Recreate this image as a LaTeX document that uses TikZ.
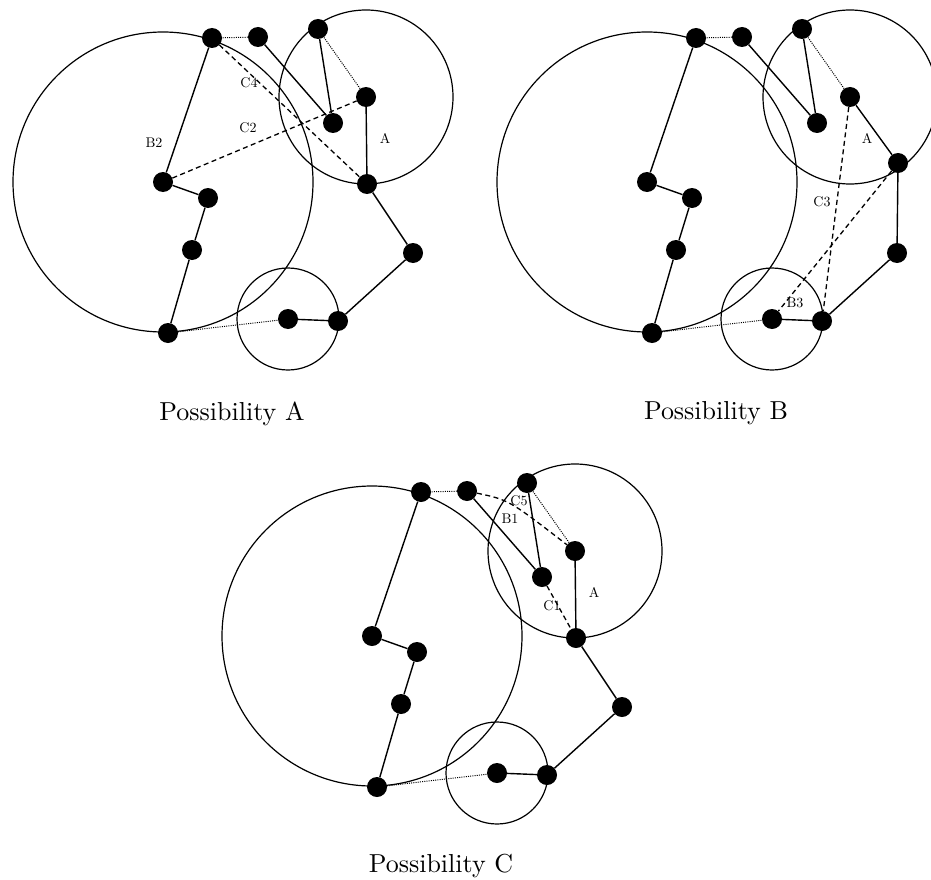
\documentclass[tikz,border=0pt]{standalone}
\newcommand\drawpanel[4]{%
\begin{scope}[shift={#1},name prefix=#2]
\coordinate (c13) at (163,182);
\coordinate (c4) at (366,97);
\coordinate (c9) at (288,319);
\draw[ring] (c13) circle[radius=150pt];
\draw[ring] (c4) circle[radius=87pt];
\draw[ring] (c9) circle[radius=51pt];
\node[dot] (n1) at (212,38) {};
\node[dot] (n2) at (258,37) {};
\node[dot] (n3) at (318,29) {};
\node[dot] (n4) at (c4) {};
\node[dot] (n5) at (333,123) {};
\node[dot] (n6) at #3 {};
\node[dot] (n7) at (413,253) {};
\node[dot] (n8) at (338,321) {};
\node[dot] (n9) at (c9) {};
\node[dot] (n10) at (168,333) {};
\node[dot] (n11) at (192,250) {};
\node[dot] (n12) at (208,198) {};
\node[dot] (n13) at (c13) {};
\draw[link] (n1) -- (n13) -- (n12) -- (n11) -- (n10);
\draw[link] (n9) -- (n8) -- (n7) -- (n6) -- (n4);
\draw[link] (n3) -- (n5) -- (n2);
\draw[dotline] (n10) -- (n9);
\draw[dotline] (n4) -- (n3);
\draw[dotline] (n2) -- (n1);
#4
\end{scope}}
\begin{document}
\begin{tikzpicture}[x=1pt,y=-1pt,
  dot/.style={circle,fill=black,inner sep=0pt,minimum size=20pt},
  link/.style={line width=1.4pt},
  ring/.style={line width=1.2pt},
  dotline/.style={line width=1pt,dash pattern=on 1pt off 1.2pt},
  dashline/.style={line width=1.3pt,dash pattern=on 5pt off 3.5pt},
  lbl/.style={font=\fontsize{10}{12}\selectfont,inner sep=1pt,transform shape,scale=1.4},
  title/.style={font=\fontsize{10}{12}\selectfont,anchor=base,inner sep=0pt,transform shape,scale=2.6}]
\useasboundingbox (0,0) rectangle (931,880);

\drawpanel{(0,0)}{a-}{(367,184)}{%
  \draw[dashline] (n1) -- (n6);
  \draw[dashline] (n13) -- (n4);
  \node[lbl] (lB2) at (154,143) {B2};
  \node[lbl] (lC4) at (249,83) {C4};
  \node[lbl] (lC2) at (248,128) {C2};
  \node[lbl] (lA) at (385,138) {A};
}

\drawpanel{(484,0)}{b-}{(414,163)}{%
  \draw[dashline] (n4) -- (n8);
  \draw[dashline] (n6) -- (n9);
  \node[lbl] (lA) at (383,138) {A};
  \node[lbl] (lC3) at (338,202) {C3};
  \node[lbl] (lB3) at (311,303) {B3};
}

\drawpanel{(209,454)}{c-}{(367,184)}{%
  \draw[dashline] (n5) -- (n6);
  \coordinate (k) at (300,46);
  \draw[dashline] (n2) .. controls (k) .. (n4);
  \node[lbl] (lC5) at (310,47) {C5};
  \node[lbl] (lB1) at (301,65) {B1};
  \node[lbl] (lC1) at (343,152) {C1};
  \node[lbl] (lA) at (385,138) {A};
}

\node[title] (tA) at (232,420) {Possibility A};
\node[title] (tB) at (716,419) {Possibility B};
\node[title] (tC) at (441,872) {Possibility C};
\end{tikzpicture}
\end{document}
